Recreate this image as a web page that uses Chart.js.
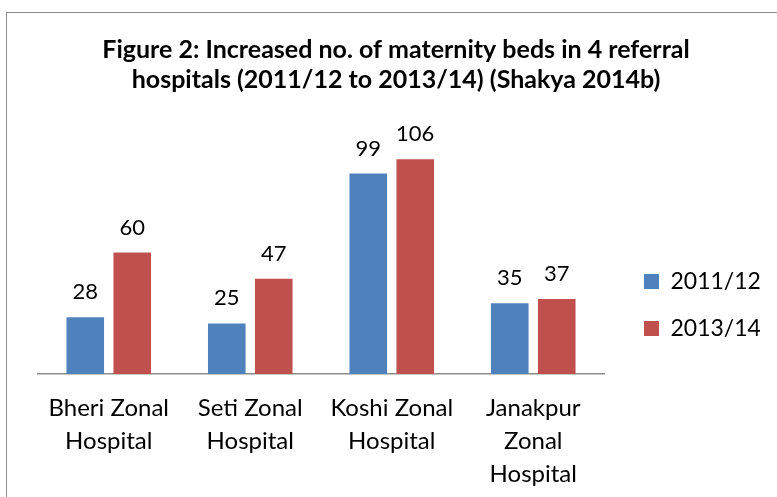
<!DOCTYPE html>
<html>
<head>
<meta charset="utf-8">
<script src="https://cdn.jsdelivr.net/npm/chart.js@4/dist/chart.umd.min.js"></script>
<style>
  html, body { margin: 0; padding: 0; background: #fff; overflow: hidden; }
  #frame { position: absolute; left: 6px; top: 12px; width: 820px; height: 540px; border: 1px solid #8c8c8c; }
  #wrap { position: absolute; left: 0; top: 0; width: 777px; height: 497px; }
</style>
</head>
<body>
<div id="frame"></div>
<div id="wrap"><canvas id="bedsChart" width="777" height="497"></canvas></div>
<script>
// chart data
const categories = [
    ['Bheri Zonal', 'Hospital'],
    ['Seti Zonal', 'Hospital'],
    ['Koshi Zonal', 'Hospital'],
    ['Janakpur', 'Zonal', 'Hospital']
];
const seriesNames = ['2011/12', '2013/14'];
const beds2011 = [28, 25, 99, 35];
const beds2013 = [60, 47, 106, 37];
const titleLines = [
    'Figure 2: Increased no. of maternity beds in 4 referral',
    'hospitals (2011/12 to 2013/14) (Shakya 2014b)'
];

Chart.defaults.font.family = 'Lato, "Open Sans", sans-serif';
Chart.defaults.color = '#000';

// numbers written over each bar
const barValueLabels = {
    id: 'barValueLabels',
    afterDatasetsDraw(chart) {
        const ctx = chart.ctx;
        ctx.save();
        ctx.font = '22px Lato';
        ctx.fillStyle = '#000';
        ctx.textAlign = 'center';
        ctx.textBaseline = 'alphabetic';
        chart.data.datasets.forEach((ds, i) => {
            chart.getDatasetMeta(i).data.forEach((bar, j) => {
                ctx.fillText(ds.data[j], bar.x, bar.y - 18);
            });
        });
        ctx.restore();
    }
};

const ctx = document.getElementById('bedsChart').getContext('2d');
new Chart(ctx, {
    type: 'bar',
    data: {
        labels: categories,
        datasets: [
            {
                label: seriesNames[0],
                data: beds2011,
                backgroundColor: '#4F81BD',
                categoryPercentage: 0.664,
                barPercentage: 0.8
            },
            {
                label: seriesNames[1],
                data: beds2013,
                backgroundColor: '#C0504D',
                categoryPercentage: 0.664,
                barPercentage: 0.8
            }
        ]
    },
    options: {
        responsive: false,
        animation: false,
        devicePixelRatio: 1,
        layout: {
            padding: { left: 32, right: 17, bottom: -12 }
        },
        scales: {
            x: {
                grid: { display: false, drawTicks: false },
                border: { display: true, color: '#8c8c8c', width: 1.5 },
                ticks: {
                    padding: 18,
                    maxRotation: 0,
                    autoSkip: false,
                    color: '#000',
                    font: { size: 24, lineHeight: 1.375 }
                }
            },
            y: {
                position: 'left',
                min: 0,
                max: 120,
                grid: { display: false },
                border: { display: false },
                ticks: { display: false },
                afterFit: (scale) => { scale.width = 6; }
            },
            // empty strip between the bars and the legend
            gap: {
                type: 'linear',
                axis: 'y',
                position: 'right',
                grid: { display: false },
                border: { display: false },
                ticks: { display: false },
                afterFit: (scale) => { scale.width = 16; }
            }
        },
        plugins: {
            title: {
                display: true,
                text: titleLines,
                color: '#000',
                font: { size: 25, weight: 'bold', lineHeight: 1.2 },
                padding: { top: 35, bottom: 36 }
            },
            legend: {
                position: 'right',
                maxWidth: 140,
                title: {
                    display: true,
                    text: ' ',
                    font: { size: 10, lineHeight: 1 },
                    padding: { top: 91, bottom: 0 }
                },
                labels: {
                    boxWidth: 15,
                    boxHeight: 15,
                    padding: 24,
                    color: '#000',
                    font: { size: 23 }
                }
            },
            tooltip: { enabled: false }
        }
    },
    plugins: [barValueLabels]
});
</script>
</body>
</html>
